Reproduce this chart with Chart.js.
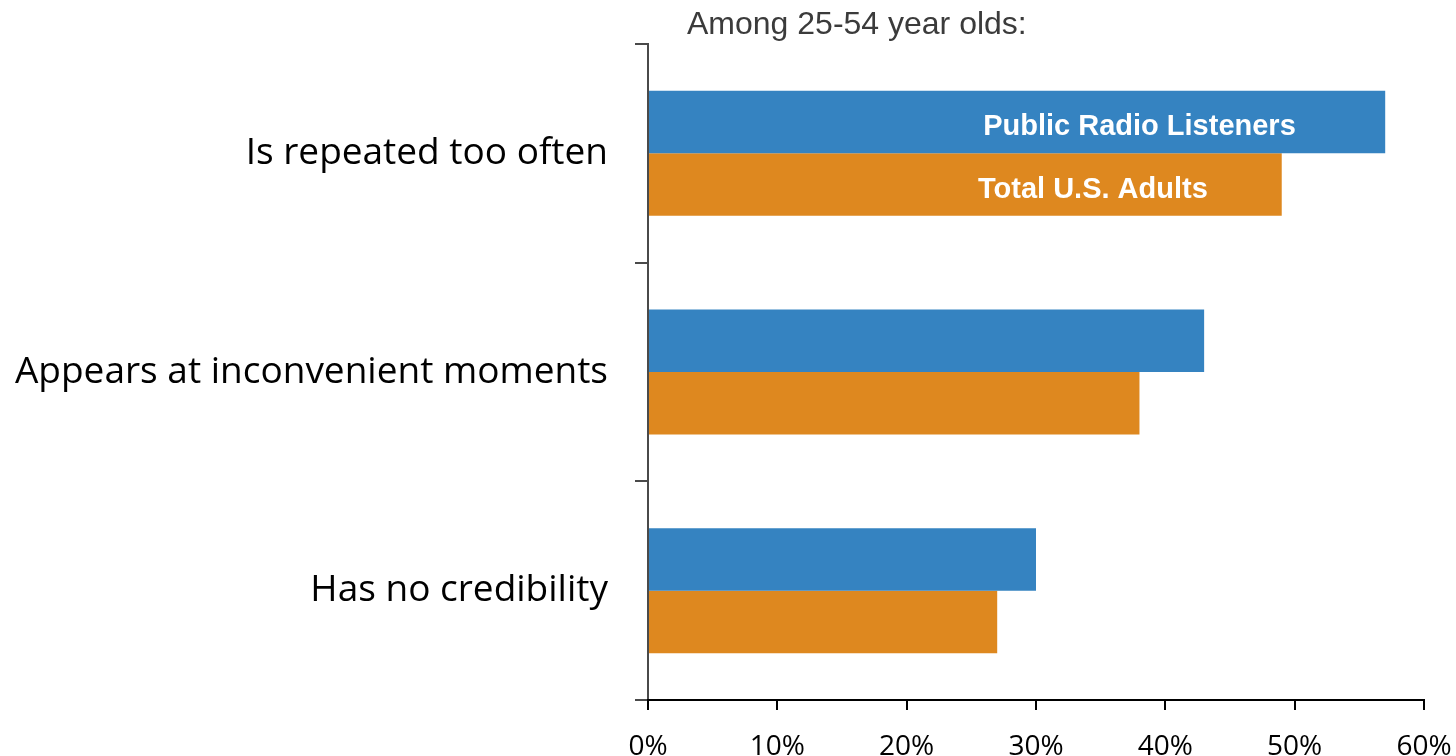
<!DOCTYPE html>
<html>
<head>
<meta charset="utf-8">
<title>Among 25-54 year olds</title>
<script src="https://cdn.jsdelivr.net/npm/chart.js@4.4.1/dist/chart.umd.min.js"></script>
<style>
    html, body { margin: 0; padding: 0; background: #fff; }
    #wrap { width: 1456px; height: 756px; }
</style>
</head>
<body>
<div id="wrap"><canvas id="chart"></canvas></div>
<script>
const categories = ['Is repeated too often', 'Appears at inconvenient moments', 'Has no credibility'];
const publicRadio = [57, 43, 30];
const totalAdults = [49, 38, 27];
const seriesNames = ['Public Radio Listeners', 'Total U.S. Adults'];
const xTicks = [0, 10, 20, 30, 40, 50, 60];

const blue = '#3583c1';
const orange = '#de881f';

// heading above the plot + series names written inside the first pair of bars
const annotate = {
    id: 'annotate',
    afterDatasetsDraw(chart, args, opts) {
        const { ctx, scales: { x } } = chart;
        ctx.save();
        ctx.font = '32px "Liberation Sans", Arial, sans-serif';
        ctx.fillStyle = '#3b3b3b';
        ctx.textAlign = 'left';
        ctx.textBaseline = 'alphabetic';
        ctx.fillText(opts.heading, 687, 34);

        ctx.font = 'bold 29px "Liberation Sans", Arial, sans-serif';
        ctx.fillStyle = '#ffffff';
        ctx.textAlign = 'center';
        opts.nameAt.forEach((v, i) => {
            const bar = chart.getDatasetMeta(i).data[0];
            ctx.fillText(seriesNames[i], x.getPixelForValue(v), bar.y + 13);
        });
        ctx.restore();
    }
};

new Chart(document.getElementById('chart'), {
    type: 'bar',
    data: {
        labels: categories,
        datasets: [
            { label: seriesNames[0], data: publicRadio, backgroundColor: blue },
            { label: seriesNames[1], data: totalAdults, backgroundColor: orange },
        ],
    },
    options: {
        indexAxis: 'y',
        responsive: true,
        maintainAspectRatio: false,
        animation: false,
        barPercentage: 1,
        categoryPercentage: 0.572,
        layout: { padding: { top: 44, right: 32, bottom: 0, left: 0 } },
        plugins: {
            legend: { display: false },
            tooltip: { enabled: false },
            annotate: { heading: 'Among 25-54 year olds:', nameAt: [38, 34.4] },
        },
        scales: {
            y: {
                grid: { drawOnChartArea: false, offset: true, tickLength: 13, color: '#4a4a4a', lineWidth: 2 },
                border: { color: '#4a4a4a', width: 2 },
                ticks: { color: '#000', font: { family: 'Open Sans', size: 37 }, padding: 27 },
                afterFit(s) {
                    s.width = 648;
                    s.paddingTop = 0;
                    s.paddingBottom = 0;
                },
            },
            x: {
                min: 0,
                max: 60,
                afterBuildTicks(s) { s.ticks = xTicks.map((v) => ({ value: v })); },
                grid: { drawOnChartArea: false, tickLength: 10, color: '#000', lineWidth: 2 },
                border: { color: '#000', width: 2 },
                ticks: { color: '#000', font: { family: 'Open Sans', size: 28 }, padding: 20, callback: (v) => v + '%' },
                afterFit(s) {
                    s.height = 56;
                    s.paddingLeft = 0;
                    s.paddingRight = 0;
                },
            },
        },
    },
    plugins: [annotate],
});
</script>
</body>
</html>
